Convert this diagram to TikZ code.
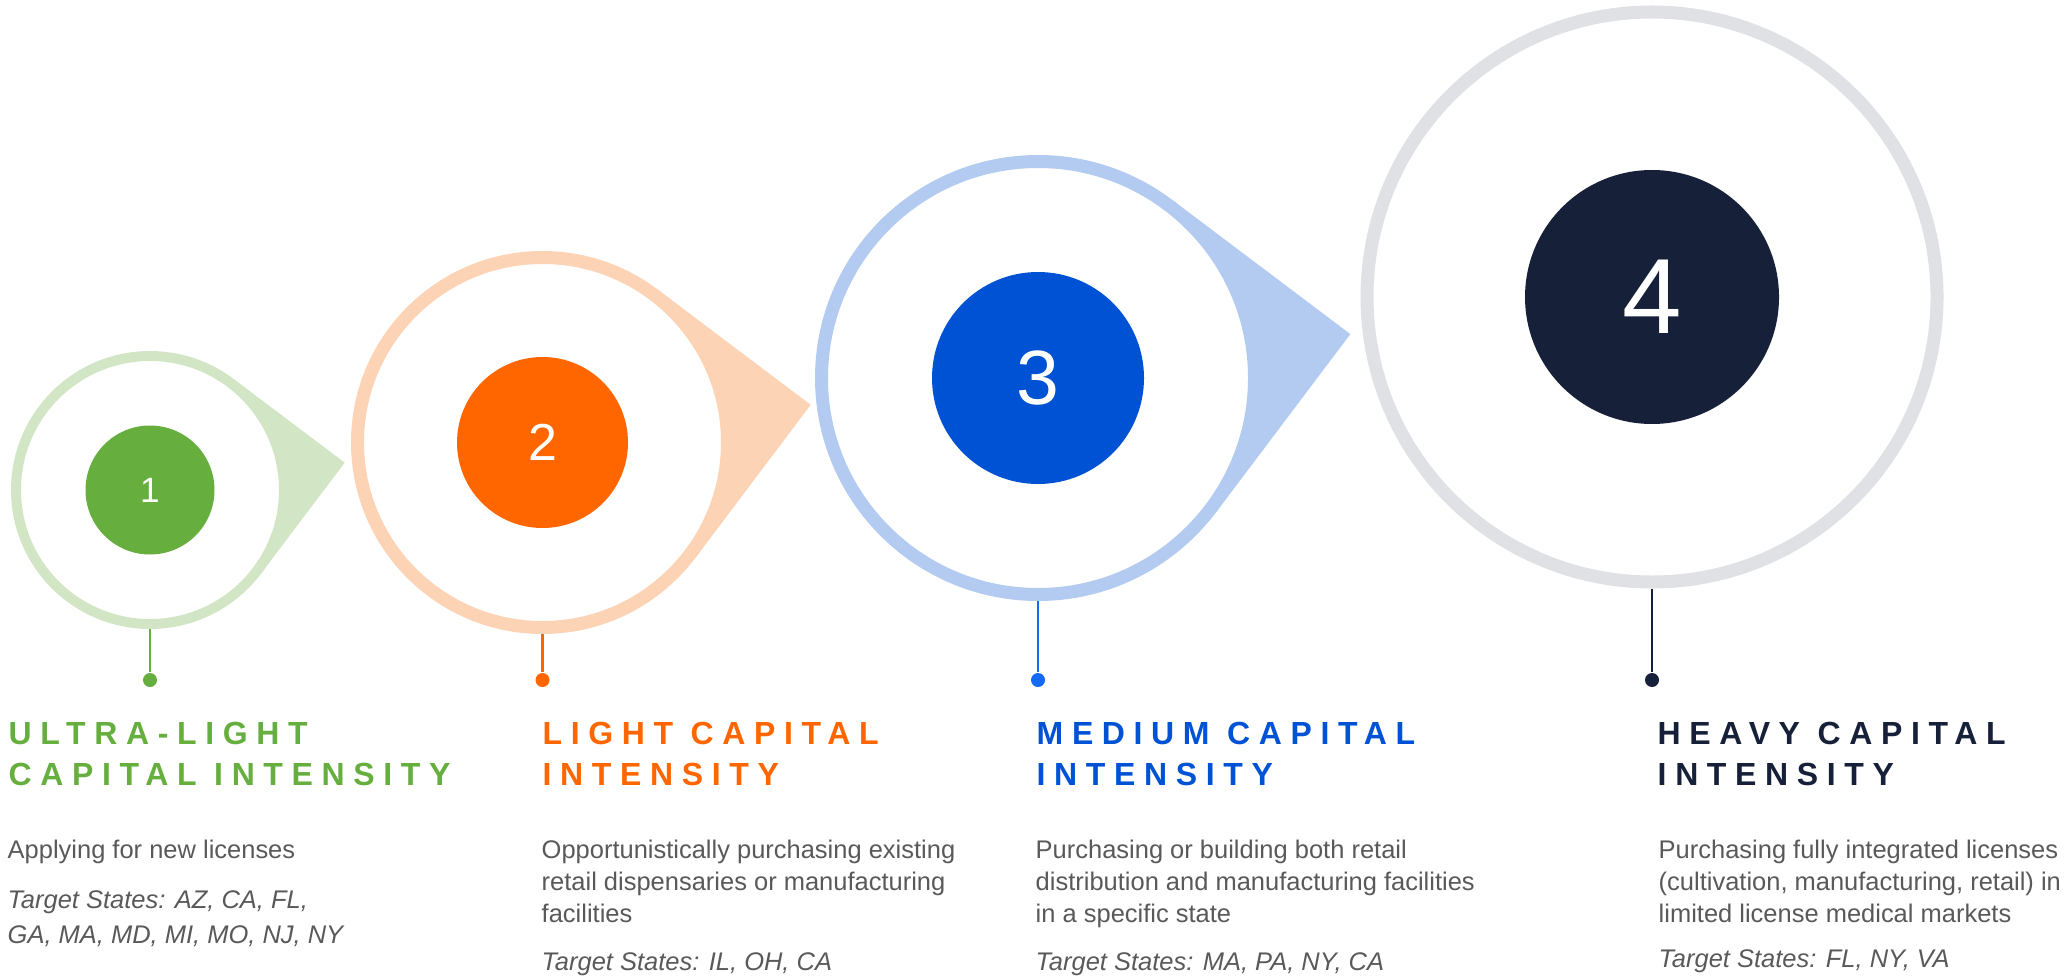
\documentclass[tikz,border=0pt]{standalone}
\usepackage{fontspec}
\setmainfont{Liberation Sans}
\usetikzlibrary{calc}

\definecolor{greenD}{HTML}{66AF3F}
\definecolor{greenL}{HTML}{D2E6C6}
\definecolor{orangeD}{HTML}{FF6600}
\definecolor{orangeL}{HTML}{FDD3B5}
\definecolor{blueD}{HTML}{0052D4}
\definecolor{blueM}{HTML}{1469F5}
\definecolor{blueL}{HTML}{B3CBF0}
\definecolor{navyD}{HTML}{162039}
\definecolor{greyL}{HTML}{E0E1E5}
\definecolor{textgrey}{HTML}{595959}

\tikzset{
  ring/.style={circle, inner sep=0pt, fill=white},
  num/.style={circle, inner sep=0pt, text=white},
  endpt/.style={circle, inner sep=0pt, minimum size=0.14cm},
  stem/.style={line width=0.025cm},
  % base west of a multi-line node sits on its last line
  heading/.style={anchor=base west, inner sep=0pt, align=left,
    font=\fontsize{9.1}{11.4}\selectfont\bfseries\addfontfeature{LetterSpace=27}},
  desc/.style={anchor=base west, inner sep=0pt, align=left, text=textgrey,
    font=\fontsize{7.25}{9.1}\selectfont},
  states/.style={desc, font=\fontsize{7.25}{9.7}\selectfont\itshape},
}

\begin{document}
\begin{tikzpicture}
  \useasboundingbox (0,0) rectangle (20.65,9.75);

  % ring 1
  \coordinate (c1) at (1.50,4.85);
  \fill[greenL] (c1) -- ($(c1)+(53:1.39)$) -- ($(c1)+(8:1.966)$) -- ($(c1)+(-37:1.39)$) -- cycle;
  \node[ring, draw=greenL, line width=0.10cm, minimum size=2.68cm] (r1) at (c1) {};
  \node[num, fill=greenD, minimum size=1.29cm, font=\fontsize{10}{12}\selectfont] (n1) at (c1) {1};

  % ring 2
  \coordinate (c2) at (5.425,5.325);
  \fill[orangeL] (c2) -- ($(c2)+(53:1.915)$) -- ($(c2)+(8:2.708)$) -- ($(c2)+(-37:1.915)$) -- cycle;
  \node[ring, draw=orangeL, line width=0.13cm, minimum size=3.70cm] (r2) at (c2) {};
  \node[num, fill=orangeD, minimum size=1.71cm, font=\fontsize{14.8}{17}\selectfont] (n2) at (c2) {2};

  % ring 3
  \coordinate (c3) at (10.38,5.97);
  \fill[blueL] (c3) -- ($(c3)+(53:2.23)$) -- ($(c3)+(8:3.154)$) -- ($(c3)+(-37:2.23)$) -- cycle;
  \node[ring, draw=blueL, line width=0.13cm, minimum size=4.33cm] (r3) at (c3) {};
  \node[num, fill=blueD, minimum size=2.12cm, font=\fontsize{21.9}{25}\selectfont] (n3) at (c3) {3};

  % ring 4
  \coordinate (c4) at (16.52,6.78);
  \node[ring, draw=greyL, line width=0.13cm, minimum size=5.70cm] (r4) at (c4) {};
  \node[num, fill=navyD, minimum size=2.54cm, font=\fontsize{30.4}{34}\selectfont] (n4) at (c4) {4};

  % stems
  \node[endpt, fill=greenD] (d1) at (1.50,2.95) {};
  \node[endpt, fill=orangeD] (d2) at (5.425,2.95) {};
  \node[endpt, fill=blueM] (d3) at (10.38,2.95) {};
  \node[endpt, fill=navyD] (d4) at (16.52,2.95) {};
  \draw[stem, greenD] (r1.south) -- (d1);
  \draw[stem, orangeD] (r2.south) -- (d2);
  \draw[stem, blueM] (r3.south) -- (d3);
  \draw[stem, navyD] (r4.south) -- (d4);

  % text columns
  \node[heading, text=greenD] (h1) at (0.08,1.90) {ULTRA-LIGHT\\CAPITAL INTENSITY};
  \node[desc] (t1) at (0.07,1.17) {Applying for new licenses};
  \node[states] (s1) at (0.07,0.32) {Target States: AZ, CA, FL,\\GA, MA, MD, MI, MO, NJ, NY};

  \node[heading, text=orangeD] (h2) at (5.42,1.90) {LIGHT CAPITAL\\INTENSITY};
  \node[desc] (t2) at (5.41,0.53) {Opportunistically purchasing existing\\retail dispensaries or manufacturing\\facilities};
  \node[states] (s2) at (5.41,0.05) {Target States: IL, OH, CA};

  \node[heading, text=blueD] (h3) at (10.36,1.90) {MEDIUM CAPITAL\\INTENSITY};
  \node[desc] (t3) at (10.35,0.53) {Purchasing or building both retail\\distribution and manufacturing facilities\\in a specific state};
  \node[states] (s3) at (10.35,0.05) {Target States: MA, PA, NY, CA};

  \node[heading, text=navyD] (h4) at (16.57,1.90) {HEAVY CAPITAL\\INTENSITY};
  \node[desc] (t4) at (16.58,0.53) {Purchasing fully integrated licenses\\(cultivation, manufacturing, retail) in\\limited license medical markets};
  \node[states] (s4) at (16.58,0.08) {Target States: FL, NY, VA};
\end{tikzpicture}
\end{document}
